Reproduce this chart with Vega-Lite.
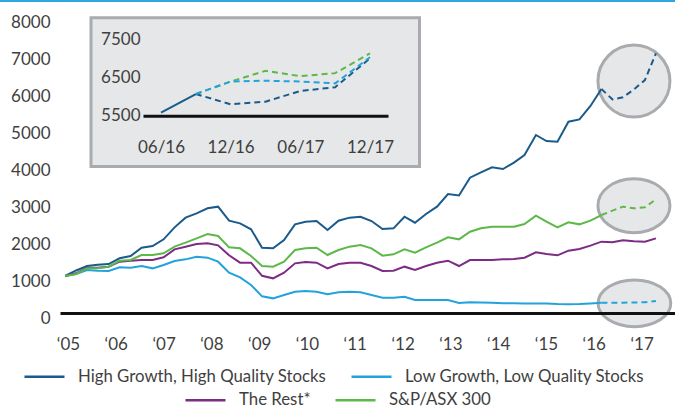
{
  "$schema": "https://vega.github.io/schema/vega-lite/v6.json",
  "width": 615,
  "height": 313,
  "autosize": {"type": "none"},
  "padding": {"left": 60, "top": 0, "right": 0, "bottom": 94},
  "background": "white",
  "config": {
    "font": "Lato",
    "view": {"stroke": null},
    "axis": {"labelFont": "Lato", "labelFontSize": 17, "labelColor": "#3f3f3f", "grid": false, "ticks": false, "tickSize": 0, "title": null, "labelOverlap": false},
    "legend": {"labelFont": "Lato", "labelFontSize": 16.8, "labelColor": "#3f3f3f", "symbolType": "stroke", "symbolSize": 1600, "symbolStrokeWidth": 2.5, "labelOffset": 12, "columnPadding": 19, "labelLimit": 400, "padding": 0}
  },
  "datasets": {
    "frame": [{"frame": "inset"}],
    "main": [
      {"t": 2004.94, "hg": 1000, "lg": 1000, "rest": 1000, "asx": 1000},
      {"t": 2005.17, "hg": 1150, "lg": 1054, "rest": 1072, "asx": 1054},
      {"t": 2005.40, "hg": 1270, "lg": 1162, "rest": 1225, "asx": 1207},
      {"t": 2005.62, "hg": 1305, "lg": 1144, "rest": 1225, "asx": 1207},
      {"t": 2005.85, "hg": 1324, "lg": 1135, "rest": 1252, "asx": 1252},
      {"t": 2006.08, "hg": 1478, "lg": 1234, "rest": 1387, "asx": 1414},
      {"t": 2006.31, "hg": 1540, "lg": 1225, "rest": 1414, "asx": 1432},
      {"t": 2006.54, "hg": 1766, "lg": 1270, "rest": 1432, "asx": 1568},
      {"t": 2006.77, "hg": 1810, "lg": 1207, "rest": 1432, "asx": 1568},
      {"t": 2007.00, "hg": 1991, "lg": 1297, "rest": 1505, "asx": 1613},
      {"t": 2007.23, "hg": 2315, "lg": 1405, "rest": 1721, "asx": 1793},
      {"t": 2007.46, "hg": 2577, "lg": 1450, "rest": 1793, "asx": 1901},
      {"t": 2007.69, "hg": 2694, "lg": 1522, "rest": 1865, "asx": 2018},
      {"t": 2007.92, "hg": 2829, "lg": 1495, "rest": 1883, "asx": 2135},
      {"t": 2008.14, "hg": 2874, "lg": 1387, "rest": 1829, "asx": 2081},
      {"t": 2008.37, "hg": 2495, "lg": 1090, "rest": 1559, "asx": 1775},
      {"t": 2008.60, "hg": 2423, "lg": 964, "rest": 1360, "asx": 1748},
      {"t": 2008.83, "hg": 2261, "lg": 757, "rest": 1360, "asx": 1541},
      {"t": 2009.06, "hg": 1766, "lg": 450, "rest": 1005, "asx": 1270},
      {"t": 2009.29, "hg": 1748, "lg": 396, "rest": 937, "asx": 1252},
      {"t": 2009.52, "hg": 1973, "lg": 486, "rest": 1090, "asx": 1387},
      {"t": 2009.75, "hg": 2397, "lg": 576, "rest": 1342, "asx": 1703},
      {"t": 2009.97, "hg": 2468, "lg": 595, "rest": 1378, "asx": 1748},
      {"t": 2010.20, "hg": 2486, "lg": 576, "rest": 1360, "asx": 1766},
      {"t": 2010.43, "hg": 2243, "lg": 505, "rest": 1207, "asx": 1568},
      {"t": 2010.66, "hg": 2495, "lg": 559, "rest": 1324, "asx": 1703},
      {"t": 2010.89, "hg": 2577, "lg": 576, "rest": 1360, "asx": 1793},
      {"t": 2011.12, "hg": 2603, "lg": 559, "rest": 1360, "asx": 1838},
      {"t": 2011.35, "hg": 2486, "lg": 486, "rest": 1270, "asx": 1748},
      {"t": 2011.58, "hg": 2270, "lg": 414, "rest": 1135, "asx": 1550},
      {"t": 2011.81, "hg": 2288, "lg": 414, "rest": 1144, "asx": 1586},
      {"t": 2012.04, "hg": 2603, "lg": 441, "rest": 1252, "asx": 1721},
      {"t": 2012.26, "hg": 2441, "lg": 351, "rest": 1162, "asx": 1631},
      {"t": 2012.49, "hg": 2676, "lg": 351, "rest": 1270, "asx": 1775},
      {"t": 2012.72, "hg": 2874, "lg": 351, "rest": 1360, "asx": 1901},
      {"t": 2012.95, "hg": 3216, "lg": 351, "rest": 1414, "asx": 2045},
      {"t": 2013.18, "hg": 3175, "lg": 270, "rest": 1270, "asx": 1991},
      {"t": 2013.41, "hg": 3657, "lg": 288, "rest": 1432, "asx": 2198},
      {"t": 2013.64, "hg": 3802, "lg": 285, "rest": 1432, "asx": 2288},
      {"t": 2013.87, "hg": 3937, "lg": 275, "rest": 1432, "asx": 2333},
      {"t": 2014.10, "hg": 3892, "lg": 265, "rest": 1450, "asx": 2333},
      {"t": 2014.33, "hg": 4063, "lg": 265, "rest": 1459, "asx": 2333},
      {"t": 2014.55, "hg": 4270, "lg": 260, "rest": 1495, "asx": 2405},
      {"t": 2014.79, "hg": 4811, "lg": 258, "rest": 1640, "asx": 2631},
      {"t": 2015.01, "hg": 4649, "lg": 255, "rest": 1595, "asx": 2468},
      {"t": 2015.24, "hg": 4631, "lg": 240, "rest": 1559, "asx": 2315},
      {"t": 2015.47, "hg": 5171, "lg": 235, "rest": 1685, "asx": 2450},
      {"t": 2015.70, "hg": 5234, "lg": 240, "rest": 1730, "asx": 2396},
      {"t": 2015.93, "hg": 5595, "lg": 255, "rest": 1820, "asx": 2495},
      {"t": 2016.16, "hg": 6054, "lg": 275, "rest": 1928, "asx": 2648},
      {"t": 2016.39, "hg": 5775, "lg": 278, "rest": 1910, "asx": 2766},
      {"t": 2016.61, "hg": 5829, "lg": 280, "rest": 1964, "asx": 2874},
      {"t": 2016.84, "hg": 6045, "lg": 282, "rest": 1937, "asx": 2829},
      {"t": 2017.07, "hg": 6297, "lg": 290, "rest": 1928, "asx": 2856},
      {"t": 2017.30, "hg": 7018, "lg": 324, "rest": 2018, "asx": 3072}
    ],
    "inset": [
      {"mo": 0, "hg": 5580, "lg": null, "asx": null},
      {"mo": 3, "hg": 6070, "lg": 6070, "asx": 6070},
      {"mo": 6, "hg": 5800, "lg": 6400, "asx": 6400},
      {"mo": 9, "hg": 5870, "lg": 6420, "asx": 6680},
      {"mo": 12, "hg": 6150, "lg": 6400, "asx": 6540},
      {"mo": 15, "hg": 6250, "lg": 6350, "asx": 6620},
      {"mo": 18, "hg": 7010, "lg": 7040, "asx": 7140}
    ],
    "callouts": [
      {"k": "hg", "t": 2016.84, "v": 6270},
      {"k": "asx", "t": 2016.84, "v": 2900},
      {"k": "lg", "t": 2016.85, "v": 262}
    ]
  },
  "layer": [
    {
      "layer": [
        {
          "data": {"name": "frame"},
          "mark": {"type": "rule", "color": "#2ea7e0", "strokeWidth": 2},
          "encoding": {
            "x": {"datum": 2003.577, "type": "quantitative", "axis": {"orient": "bottom", "values": [2005, 2006, 2007, 2008, 2009, 2010, 2011, 2012, 2013, 2014, 2015, 2016, 2017], "labelExpr": "'\u2018' + substring(toString(datum.value), 2, 4)", "domainColor": "#111111", "domainWidth": 3, "labelPadding": 23, "labelFlush": false, "labelOverlap": false, "zindex": 1, "title": null}},
            "x2": {"datum": 2017.7},
            "y": {"datum": 8432, "type": "quantitative", "axis": {"orient": "left", "values": [0, 1000, 2000, 3000, 4000, 5000, 6000, 7000, 8000], "format": "d", "domain": false, "labelPadding": 10, "labelOffset": 5, "labelOverlap": false, "title": null}}
          }
        },
        {
          "data": {"name": "frame"},
          "mark": {"type": "rect", "fill": "#e6e7e8", "stroke": "#a9abae", "strokeWidth": 3},
          "encoding": {
            "x": {"datum": 2005.4815, "type": "quantitative", "axis": {"orient": "bottom", "values": [2005, 2006, 2007, 2008, 2009, 2010, 2011, 2012, 2013, 2014, 2015, 2016, 2017], "labelExpr": "'\u2018' + substring(toString(datum.value), 2, 4)", "domainColor": "#111111", "domainWidth": 3, "labelPadding": 23, "labelFlush": false, "labelOverlap": false, "zindex": 1, "title": null}},
            "x2": {"datum": 2012.354},
            "y": {"datum": 7982, "type": "quantitative", "axis": {"orient": "left", "values": [0, 1000, 2000, 3000, 4000, 5000, 6000, 7000, 8000], "format": "d", "domain": false, "labelPadding": 10, "labelOffset": 5, "labelOverlap": false, "title": null}},
            "y2": {"datum": 3960}
          }
        },
        {
          "encoding": {
            "x": {"field": "t", "type": "quantitative", "scale": {"domain": [2004.833, 2017.699], "nice": false, "zero": false},
              "axis": {"orient": "bottom", "values": [2005, 2006, 2007, 2008, 2009, 2010, 2011, 2012, 2013, 2014, 2015, 2016, 2017], "labelExpr": "'\u2018' + substring(toString(datum.value), 2, 4)", "domainColor": "#111111", "domainWidth": 3, "labelPadding": 23, "labelFlush": false, "labelOverlap": false, "zindex": 1, "title": null}},
            "y": {"field": "v", "type": "quantitative", "scale": {"domain": [0, 8460], "nice": false},
              "axis": {"orient": "left", "values": [0, 1000, 2000, 3000, 4000, 5000, 6000, 7000, 8000], "format": "d", "domain": false, "labelPadding": 10, "labelOffset": 5, "labelOverlap": false, "title": null}}
          },
          "layer": [
            {
              "data": {"name": "callouts"},
              "mark": {"type": "point", "filled": true, "fill": "#e6e7e8", "stroke": "#a9abae", "strokeWidth": 3, "opacity": 1, "fillOpacity": 1, "strokeOpacity": 1, "size": 5184},
              "encoding": {
                "shape": {"field": "k", "type": "nominal", "legend": null, "scale": {"domain": ["hg", "asx", "lg"], "range": [
                  "M1,0C1,0.5523 0.5523,1 0,1C-0.5523,1 -1,0.5523 -1,0C-1,-0.5523 -0.5523,-1 0,-1C0.5523,-1 1,-0.5523 1,0Z",
                  "M1,0C1,0.4142 0.5523,0.75 0,0.75C-0.5523,0.75 -1,0.4142 -1,0C-1,-0.4142 -0.5523,-0.75 0,-0.75C0.5523,-0.75 1,-0.4142 1,0Z",
                  "M1.01,0C1.01,0.359 0.558,0.65 0,0.65C-0.558,0.65 -1.01,0.359 -1.01,0C-1.01,-0.359 -0.558,-0.65 0,-0.65C0.558,-0.65 1.01,-0.359 1.01,0Z"
                ]}}
              }
            },
            {
              "data": {"name": "main"},
              "transform": [
                {"fold": ["hg", "lg"], "as": ["k", "v"]},
                {"filter": "datum.t <= 2016.17"}
              ],
              "mark": {"type": "line", "strokeWidth": 2},
              "encoding": {
                "stroke": {"field": "k", "type": "nominal", "scale": {"domain": ["hg", "lg"], "range": ["#1a5b8c", "#22a3dc"]},
                  "legend": {"orient": "none", "direction": "horizontal", "title": null, "legendX": -37, "legendY": 355, "labelExpr": "datum.label == 'hg' ? 'High Growth, High Quality Stocks' : 'Low Growth, Low Quality Stocks'"}}
              }
            },
            {
              "data": {"name": "main"},
              "transform": [
                {"fold": ["hg", "lg"], "as": ["k", "v"]},
                {"filter": "datum.t >= 2016.15"}
              ],
              "mark": {"type": "line", "strokeWidth": 2, "strokeDash": [6, 4]},
              "encoding": {
                "stroke": {"field": "k", "type": "nominal", "scale": {"domain": ["hg", "lg"], "range": ["#1a5b8c", "#22a3dc"]}}
              }
            },
            {
              "data": {"name": "main"},
              "transform": [
                {"fold": ["rest", "asx"], "as": ["k", "v"]},
                {"filter": "datum.t <= 2016.17 || datum.k == 'rest'"}
              ],
              "mark": {"type": "line", "strokeWidth": 2},
              "encoding": {
                "color": {"field": "k", "type": "nominal", "scale": {"domain": ["rest", "asx"], "range": ["#7d2b84", "#5cb848"]},
                  "legend": {"orient": "none", "direction": "horizontal", "title": null, "legendX": 124, "legendY": 378.5, "labelExpr": "datum.label == 'rest' ? 'The Rest*' : 'S&P/ASX 300'"}}
              }
            },
            {
              "data": {"name": "main"},
              "transform": [
                {"fold": ["asx"], "as": ["k", "v"]},
                {"filter": "datum.t >= 2016.15"}
              ],
              "mark": {"type": "line", "strokeWidth": 2, "strokeDash": [6, 4]},
              "encoding": {
                "color": {"field": "k", "type": "nominal", "scale": {"domain": ["rest", "asx"], "range": ["#7d2b84", "#5cb848"]}}
              }
            }
          ]
        }
      ]
    },
    {
      "encoding": {
        "x": {"field": "mo", "type": "quantitative", "scale": {"domain": [-1.55, 19.55], "range": [83, 328], "nice": false, "zero": false},
          "axis": {"orient": "bottom", "offset": -197.3, "values": [0, 6, 12, 18], "labelExpr": "['06/16', '12/16', '06/17', '12/17'][datum.value / 6]", "domainColor": "#111111", "domainWidth": 3, "labelPadding": 24, "labelFlush": false, "labelOverlap": false, "zindex": 1, "title": null}},
        "y": {"field": "iv", "type": "quantitative", "scale": {"domain": [5500, 7500], "range": [115.7, 39.7], "nice": false, "zero": false},
          "axis": {"orient": "left", "offset": -84, "values": [5500, 6500, 7500], "format": "d", "domain": false, "labelPadding": 4, "labelOverlap": false, "zindex": 1, "title": null}}
      },
      "layer": [
        {
          "data": {"name": "inset"},
          "transform": [
            {"fold": ["hg"], "as": ["k", "iv"]},
            {"filter": "datum.mo <= 3"}
          ],
          "mark": {"type": "line", "strokeWidth": 2},
          "encoding": {
            "stroke": {"field": "k", "type": "nominal", "scale": {"domain": ["hg", "lg"], "range": ["#1a5b8c", "#22a3dc"]}}
          }
        },
        {
          "data": {"name": "inset"},
          "transform": [
            {"fold": ["asx"], "as": ["k", "iv"]},
            {"filter": "datum.mo >= 3"}
          ],
          "mark": {"type": "line", "strokeWidth": 2, "strokeDash": [6, 4]},
          "encoding": {
            "color": {"field": "k", "type": "nominal", "scale": {"domain": ["rest", "asx"], "range": ["#7d2b84", "#5cb848"]}}
          }
        },
        {
          "data": {"name": "inset"},
          "transform": [
            {"fold": ["hg", "lg"], "as": ["k", "iv"]},
            {"filter": "datum.mo >= 3"}
          ],
          "mark": {"type": "line", "strokeWidth": 2, "strokeDash": [6, 4]},
          "encoding": {
            "stroke": {"field": "k", "type": "nominal", "scale": {"domain": ["hg", "lg"], "range": ["#1a5b8c", "#22a3dc"]}}
          }
        }
      ]
    }
  ],
  "resolve": {"scale": {"x": "independent", "y": "independent"}}
}
